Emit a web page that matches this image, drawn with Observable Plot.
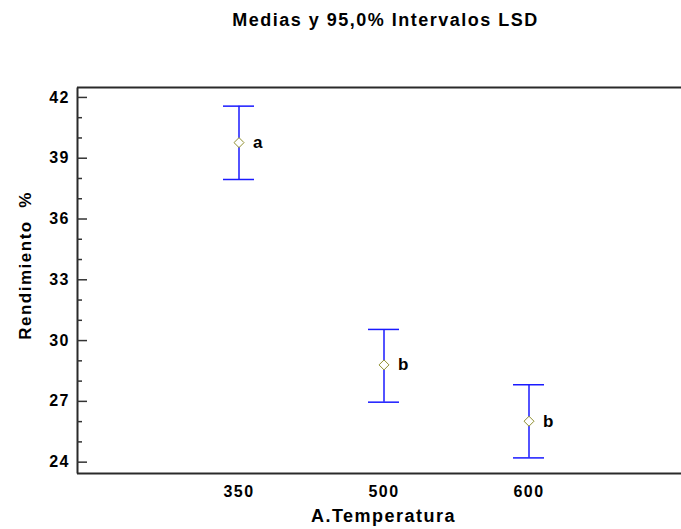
<!DOCTYPE html>
<html>
<head>
<meta charset="utf-8">
<script src="https://cdn.jsdelivr.net/npm/d3@7"></script>
<script src="https://cdn.jsdelivr.net/npm/@observablehq/plot@0.6"></script>
<style>
  html, body { margin: 0; padding: 0; background: #fff; overflow: hidden; width: 681px; height: 529px; }
  #chart { width: 681px; height: 529px; overflow: hidden; }
  #chart svg { overflow: hidden; display: block; }
  g[aria-label="x-title"] text { letter-spacing: 2.6px; }
  g[aria-label="y-title"] text { letter-spacing: 1.7px; }
</style>
</head>
<body>
<div id="chart"></div>
<script>
const title = "Medias y 95,0% Intervalos LSD";
const xLabel = "A.Temperatura";
const yLabel = "Rendimiento  %";
const categories = ["350", "500", "600"];
const means = [39.77, 28.80, 26.02];
const lower = [37.95, 26.96, 24.21];
const upper = [41.57, 30.55, 27.82];
const letters = ["a", "b", "b"];
const yTicks = [24, 27, 30, 33, 36, 39, 42];
const yMinorTicks = [25, 26, 28, 29, 31, 32, 34, 35, 37, 38, 40, 41];
const yDomain = [23.44, 42.49];

const data = categories.map((c, i) => ({
  cat: c, mean: means[i], lo: lower[i], hi: upper[i], letter: letters[i]
}));

const font = "'Liberation Sans', Arial, sans-serif";
const blue = "#1a1aff";

const chart = Plot.plot({
  width: 681,
  height: 529,
  marginLeft: 77,
  marginRight: 0,
  marginTop: 87,
  marginBottom: 56,
  style: { fontFamily: font, fontWeight: "bold", fontSize: "16px", color: "#000", background: "#fff", letterSpacing: "1.5px" },
  x: { type: "band", domain: categories, paddingInner: 0.787, paddingOuter: 0.969, align: 0.516, axis: null },
  y: { domain: yDomain, axis: null },
  marks: [
    // top and bottom edges of the frame
    Plot.ruleY(yDomain, { stroke: "#2a2a2a", strokeWidth: 2 }),
    // left edge of the frame (frame stroke limited to its left side)
    Plot.frame({ stroke: "#2a2a2a", strokeWidth: 2, strokeDasharray: "0 1594 386" }),
    // major ticks, inward, left
    Plot.axisY(yTicks, { anchor: "left", tickSize: 10, dx: 10, fill: "none", label: null, stroke: "#333", strokeWidth: 1.5 }),
    // minor ticks, inward, left
    Plot.axisY(yMinorTicks, { anchor: "left", tickSize: 5, dx: 5, fill: "none", label: null, stroke: "#333", strokeWidth: 1.5 }),
    // tick labels
    Plot.axisY(yTicks, { anchor: "left", tickSize: 0, tickPadding: 7.5, label: null, fontSize: 16, fontWeight: "bold" }),
    Plot.axisX(categories, { anchor: "bottom", tickSize: 0, tickPadding: 12, label: null, fontSize: 16, fontWeight: "bold" }),
    // error bars
    Plot.ruleX(data, { x: "cat", y1: "lo", y2: "hi", stroke: blue, strokeWidth: 1.5 }),
    Plot.tickY(data, { x: "cat", y: "lo", stroke: blue, strokeWidth: 1.5 }),
    Plot.tickY(data, { x: "cat", y: "hi", stroke: blue, strokeWidth: 1.5 }),
    // means
    Plot.dot(data, { x: "cat", y: "mean", symbol: "diamond2", r: 4.5, stroke: "#8f8f2f", strokeWidth: 1, fill: "#fff" }),
    // group letters
    Plot.text(data, { x: "cat", y: "mean", text: "letter", dx: 14, textAnchor: "start", fontSize: 17, fontWeight: "bold", fill: "#000" }),
    // titles
    Plot.text([title], { frameAnchor: "top", textAnchor: "middle", lineAnchor: "middle", dx: 6, dy: -67, fontSize: 18, fontWeight: "bold", fill: "#000", ariaLabel: "title" }),
    Plot.text([xLabel], { frameAnchor: "bottom", textAnchor: "middle", lineAnchor: "top", dx: 4, dy: 36, fontSize: 18, fontWeight: "bold", fill: "#000", ariaLabel: "x-title" }),
    Plot.text([yLabel], { frameAnchor: "left", textAnchor: "middle", dx: -52, dy: -15, rotate: -90, fontSize: 17, fontWeight: "bold", fill: "#000", ariaLabel: "y-title" })
  ]
});

document.getElementById("chart").appendChild(chart);
</script>
</body>
</html>
